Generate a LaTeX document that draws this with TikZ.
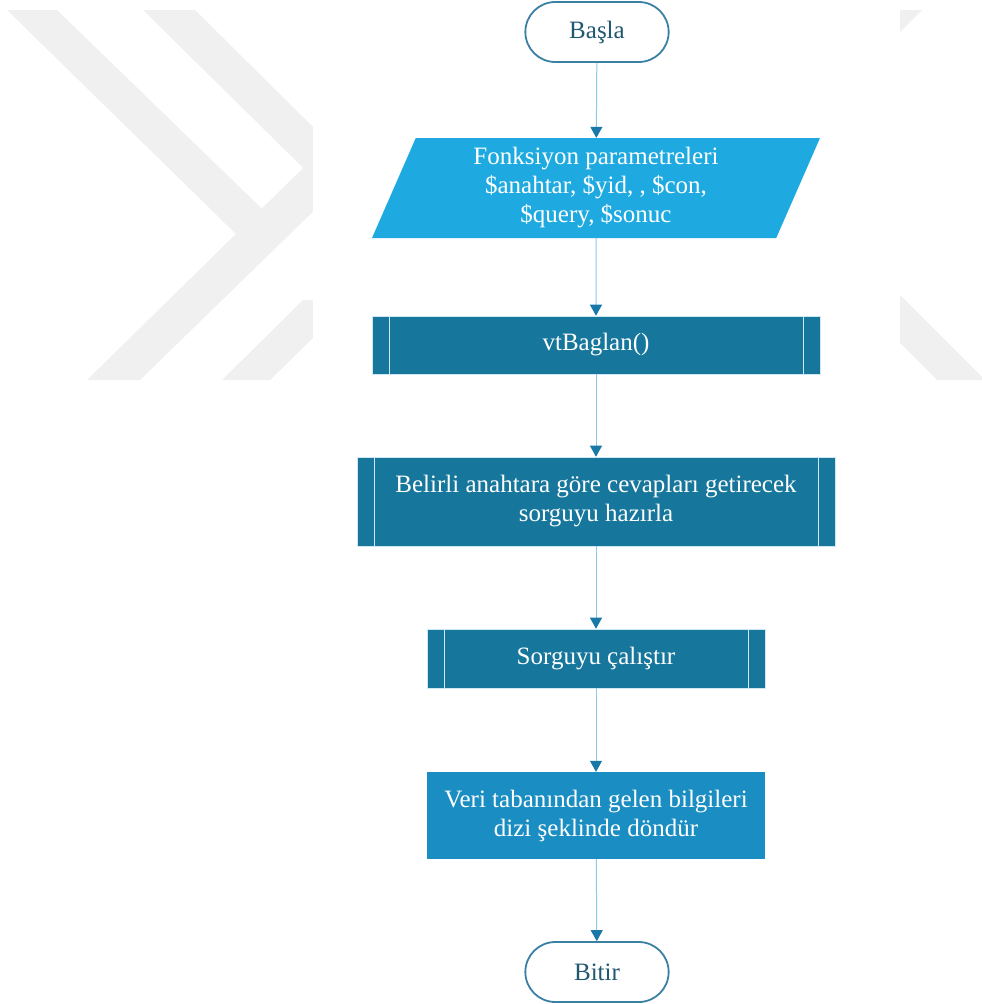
\documentclass[tikz,border=0pt]{standalone}
\usepackage{fontspec}
\setmainfont{Liberation Serif}
\usetikzlibrary{arrows.meta,shapes.geometric,shapes.misc}

\definecolor{damga}{RGB}{240,240,240}
\definecolor{uckenar}{RGB}{58,128,163}
\definecolor{ucyazi}{RGB}{32,88,112}
\definecolor{cizgi}{RGB}{140,202,226}
\definecolor{ucok}{RGB}{24,120,168}
\definecolor{girdi}{RGB}{30,170,225}
\definecolor{altsurec}{RGB}{22,118,155}
\definecolor{islem}{RGB}{26,141,194}
\definecolor{ince}{RGB}{205,232,242}

\begin{document}
\begin{tikzpicture}[x=1pt, y=-1pt,
    yazi/.style={font=\fontsize{25}{29}\selectfont, text=white, align=center},
    uc/.style={rounded rectangle, draw=uckenar, line width=1.8pt, fill=white,
               minimum width=150pt, minimum height=60pt,
               font=\fontsize{25}{29}\selectfont, text=ucyazi},
    param/.style={yazi, trapezium, trapezium left angle=63.4, trapezium right angle=116.6,
                  trapezium stretches body, fill=girdi, minimum width=448pt, minimum height=100pt},
    alt/.style={yazi, rectangle, fill=altsurec, draw=ince, line width=0.6pt,
                path picture={
                  \draw[ince, line width=1pt] ([xshift=17pt]path picture bounding box.north west) -- ([xshift=17pt]path picture bounding box.south west);
                  \draw[ince, line width=1pt] ([xshift=-17pt]path picture bounding box.north east) -- ([xshift=-17pt]path picture bounding box.south east);}},
    kutu/.style={yazi, rectangle, fill=islem},
    ok/.style={draw=cizgi, line width=1pt, -{Triangle[length=11pt, width=12pt, color=ucok]}}]
  \useasboundingbox (0,0) rectangle (982,1004);
  % watermark
  \fill[damga] (7,10) -- (57,10) -- (289,235) -- (237,235) -- cycle;
  \fill[damga] (87,380) -- (140,380) -- (400,127) -- (345,127) -- cycle;
  \fill[damga] (143,10) -- (195,10) -- (407,220) -- (356,220) -- cycle;
  \fill[damga] (222,380) -- (270,380) -- (352,300) -- (303,300) -- cycle;
  \fill[damga] (900,10) -- (922,10) -- (900,32) -- cycle;
  \fill[damga] (900,295) -- (985,380) -- (937,380) -- (900,343) -- cycle;
  \fill[white] (313,0) rectangle (900,400);

  \node[uc] (basla) at (597,32) {Başla};
  \node[param] (fonk) at (596,188) {Fonksiyon parametreleri\\\$anahtar, \$yid, , \$con,\\\$query, \$sonuc};
  \node[alt, minimum width=448pt, minimum height=58pt] (vt) at (596,345) {vtBaglan()};
  \node[alt, minimum width=478pt, minimum height=89pt] (sorguhaz) at (596,501.5) {Belirli anahtara göre cevapları getirecek\\sorguyu hazırla};
  \node[alt, minimum width=338pt, minimum height=59pt] (calistir) at (596,658.5) {Sorguyu çalıştır};
  \node[kutu, minimum width=338pt, minimum height=87pt] (dondur) at (596,815.5) {Veri tabanından gelen bilgileri\\dizi şeklinde döndür};
  \node[uc] (bitir) at (597,972) {Bitir};

  \draw[ok] (basla) -- (fonk);
  \draw[ok] (fonk) -- (vt);
  \draw[ok] (vt) -- (sorguhaz);
  \draw[ok] (sorguhaz) -- (calistir);
  \draw[ok] (calistir) -- (dondur);
  \draw[ok] (dondur) -- (bitir);
\end{tikzpicture}
\end{document}
